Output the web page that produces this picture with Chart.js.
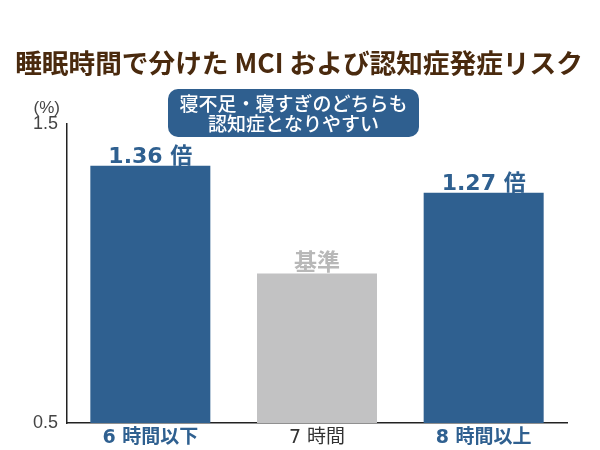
<!DOCTYPE html>
<html><head><meta charset="utf-8">
<script src="https://cdn.jsdelivr.net/npm/chart.js@4"></script>
<style>html,body{margin:0;padding:0;background:#fff}#w{width:600px;height:450px}</style>
</head><body><div id="w"><canvas id="c" width="600" height="450"></canvas></div>
<script>
const categories = ["6 時間以下", "7 時間", "8 時間以上"];
const values = [1.36, 1.0, 1.27];
const valueLabels = ["1.36 倍", "基準", "1.27 倍"];
const yTicks = [0.5, 1.5];
const titleText = "睡眠時間で分けた MCI および認知症発症リスク";
const calloutLines = ["寝不足・寝すぎのどちらも", "認知症となりやすい"];

const BLUE = "#2f6090", GRAY = "#c2c2c3", BROWN = "#4a2a0e";
const JP = "'Noto Sans CJK JP', 'Noto Sans', sans-serif";
const MIX = "'DejaVu Sans', 'Noto Sans CJK JP', sans-serif";
const barColors = [BLUE, GRAY, BLUE];
const labelColors = [BLUE, "#b8b8b8", BLUE];
const xColors = [BLUE, "#333333", BLUE];

const deco = {
  id: 'deco',
  afterDraw(chart) {
    const ctx = chart.ctx;
    ctx.save();
    // title
    let fs = 24;
    ctx.font = `bold ${fs}px ${JP}`;
    const w = ctx.measureText(titleText).width;
    fs = fs * 568 / w;
    ctx.font = `bold ${fs}px ${JP}`;
    ctx.fillStyle = BROWN;
    ctx.textAlign = 'center';
    ctx.textBaseline = 'middle';
    ctx.fillText(titleText, 299, 63);
    // (%)
    ctx.font = `17px 'Liberation Sans', sans-serif`;
    ctx.fillStyle = '#444';
    ctx.textAlign = 'right';
    ctx.fillText('(%)', 60, 108);
    // callout
    const bx = 168, by = 89, bw = 251, bh = 48, r = 10;
    ctx.fillStyle = '#2f5f8f';
    ctx.beginPath();
    ctx.roundRect(bx, by, bw, bh, r);
    ctx.fill();
    ctx.fillStyle = '#fff';
    ctx.textAlign = 'center';
    ctx.font = `500 19px ${JP}`;
    ctx.fillText(calloutLines[0], bx + bw / 2, 104);
    ctx.fillText(calloutLines[1], bx + bw / 2, 124);
    // value labels
    const meta = chart.getDatasetMeta(0);
    ctx.textBaseline = 'alphabetic';
    meta.data.forEach((bar, i) => {
      ctx.fillStyle = labelColors[i];
      if (i === 1) {
        ctx.font = `bold 23px ${JP}`;
        ctx.fillText(valueLabels[i], bar.x, bar.y - 4);
      } else {
        ctx.font = `bold 22px ${MIX}`;
        ctx.fillText(valueLabels[i], bar.x, bar.y - 3);
      }
    });
    ctx.restore();
  }
};

new Chart(document.getElementById('c'), {
  type: 'bar',
  data: { labels: categories, datasets: [{ data: values, backgroundColor: barColors, borderWidth: 0 }] },
  options: {
    responsive: false, animation: false,
    layout: { padding: { top: 124, right: 33, left: 0, bottom: 0 } },
    plugins: { legend: { display: false }, tooltip: { enabled: false } },
    datasets: { bar: { categoryPercentage: 0.72, barPercentage: 1.0 } },
    scales: {
      x: {
        grid: { display: false, drawTicks: false },
        border: { color: '#222', width: 1.5 },
        ticks: {
          padding: 4,
          color: (c) => xColors[c.index],
          font: (c) => ({ family: MIX, size: 19, weight: c.index === 1 ? 'normal' : 'bold' })
        },
        afterFit(s) { s.height = 27; }
      },
      y: {
        min: 0.5, max: 1.5,
        grid: { display: false, drawTicks: false },
        border: { color: '#222', width: 1.5 },
        afterBuildTicks(s) { s.ticks = yTicks.map(v => ({ value: v })); },
        ticks: {
          padding: 9, color: '#444',
          font: { family: "'Liberation Sans', sans-serif", size: 18 },
          callback: (v) => v.toFixed(1)
        },
        afterFit(s) { s.width = 67; }
      }
    }
  },
  plugins: [deco]
});
</script></body></html>
